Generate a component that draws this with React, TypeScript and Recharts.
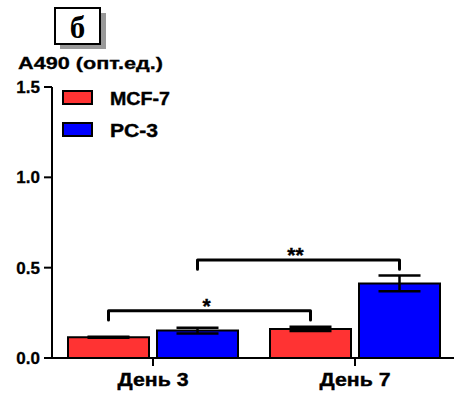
import React from 'react';
import { BarChart, Bar, XAxis, YAxis, ErrorBar, Legend } from 'recharts';

const categories = ['День 3', 'День 7'];
const mcf7 = [0.115, 0.161];
const mcf7Err = [0.003, 0.012];
const pc3 = [0.152, 0.413];
const pc3Err = [0.016, 0.044];
const yTicks = [0, 0.5, 1.0, 1.5];
const seriesNames = ['MCF-7', 'PC-3'];
const seriesColors = ['#FF3333', '#0000FF'];
const bracketLevels = [0.262, 0.542];
const bracketDrop = 0.051;
const bracketLabels = ['*', '**'];
const yLabel = 'A490 (опт.ед.)';
const panelLetter = 'б';

const data = categories.map((c, i) => ({
  day: c,
  mcf7: mcf7[i],
  mcf7Err: mcf7Err[i],
  pc3: pc3[i],
  pc3Err: pc3Err[i],
}));

const CHART_W = 456;
const CHART_H = 401;
const MARGIN = { top: 87, right: 0, bottom: 13, left: 8 };
const YAXIS_W = 44;
const XAXIS_H = 30;
const STEP = (CHART_W - MARGIN.left - YAXIS_W - MARGIN.right) / categories.length;
const FONT = '"Liberation Sans", Arial, sans-serif';

const makeBracket = (level: number, text: string) => (props: any) => {
  const { x, y, width, height, value, index } = props;
  if (index !== 0) return null;
  const v = Array.isArray(value) ? value[1] - value[0] : value;
  const base = Number(y) + Number(height);
  const ppu = Number(height) / Number(v);
  const yl = base - level * ppu;
  const yd = base - (level - bracketDrop) * ppu;
  const x0 = Number(x) + Number(width) / 2;
  const x1 = x0 + STEP;
  return (
    <g>
      <path
        d={`M${x0},${yd} L${x0},${yl} L${x1},${yl} L${x1},${yd}`}
        fill="none"
        stroke="#000"
        strokeWidth={3}
        strokeLinejoin="round"
        strokeLinecap="round"
      />
      <text
        x={(x0 + x1) / 2 - 3}
        y={yl + 2}
        textAnchor="middle"
        fontFamily={FONT}
        fontWeight="bold"
        fontSize={21}
        fill="#000"
        stroke="#000"
        strokeWidth={0.4}
      >
        {text}
      </text>
    </g>
  );
};

const YTick = (props: any) => {
  const { x, y, payload } = props;
  return (
    <text
      x={x}
      y={y}
      dy={6}
      textAnchor="end"
      fontFamily={FONT}
      fontWeight="bold"
      fontSize={17}
      fill="#000"
      stroke="#000"
      strokeWidth={0.3}
    >
      {Number(payload.value).toFixed(1)}
    </text>
  );
};

const XTick = (props: any) => {
  const { x, y, payload } = props;
  return (
    <text
      x={x}
      y={y}
      dy={18}
      textAnchor="middle"
      fontFamily={FONT}
      fontWeight="bold"
      fontSize={19}
      fill="#000"
      stroke="#000"
      strokeWidth={0.4}
      textLength={71}
      lengthAdjust="spacingAndGlyphs"
    >
      {payload.value}
    </text>
  );
};

const legendTextLen = [60, 48];

const LegendContent = (props: any) => {
  const payload = props.payload || [];
  return (
    <svg width={130} height={56}>
      {payload.map((p: any, i: number) => (
        <g key={i} transform={`translate(0, ${i * 32})`}>
          <rect x={1} y={4} width={29} height={13} fill={p.color} stroke="#000" strokeWidth={2} />
          <text
            x={48}
            y={17.5}
            fontFamily={FONT}
            fontWeight="bold"
            fontSize={18.5}
            fill="#000"
            stroke="#000"
            strokeWidth={0.4}
            textLength={legendTextLen[i]}
            lengthAdjust="spacingAndGlyphs"
          >
            {p.value}
          </text>
        </g>
      ))}
    </svg>
  );
};

export default function App() {
  return (
    <div style={{ position: 'absolute', left: 0, top: 0, width: 454, height: 401, overflow: 'hidden', background: '#fff' }}>
      <BarChart
        width={CHART_W}
        height={CHART_H}
        data={data}
        margin={MARGIN}
        barSize={81}
        barGap={8}
      >
        <XAxis
          dataKey="day"
          height={XAXIS_H}
          tickSize={8}
          tickMargin={2}
          axisLine={{ stroke: '#000', strokeWidth: 2 }}
          tickLine={{ stroke: '#000', strokeWidth: 2 }}
          tick={<XTick />}
        />
        <YAxis
          width={YAXIS_W}
          domain={[0, 1.5]}
          ticks={yTicks}
          tickSize={8}
          tickMargin={4}
          axisLine={{ stroke: '#000', strokeWidth: 2 }}
          tickLine={{ stroke: '#000', strokeWidth: 2 }}
          tick={<YTick />}
        />
        <Legend
          layout="vertical"
          align="center"
          verticalAlign="middle"
          wrapperStyle={{ top: 87, left: 62, width: 130, height: 56 }}
          content={<LegendContent />}
        />
        <Bar
          dataKey="mcf7"
          name={seriesNames[0]}
          fill={seriesColors[0]}
          stroke="#000"
          strokeWidth={2}
          isAnimationActive={false}
          label={makeBracket(bracketLevels[0], bracketLabels[0])}
        >
          <ErrorBar dataKey="mcf7Err" width={21} stroke="#000" strokeWidth={2.5} direction="y" />
        </Bar>
        <Bar
          dataKey="pc3"
          name={seriesNames[1]}
          fill={seriesColors[1]}
          stroke="#000"
          strokeWidth={2}
          isAnimationActive={false}
          label={makeBracket(bracketLevels[1], bracketLabels[1])}
        >
          <ErrorBar dataKey="pc3Err" width={21} stroke="#000" strokeWidth={2.5} direction="y" />
        </Bar>
      </BarChart>
      <svg width={454} height={80} style={{ position: 'absolute', left: 0, top: 0, pointerEvents: 'none' }}>
        <rect x={60} y={13} width={46} height={36} fill="#999" />
        <rect x={55} y={8} width={45} height={36} fill="#fff" stroke="#000" strokeWidth={2} />
        <text
          x={77.5}
          y={38}
          textAnchor="middle"
          fontFamily='"Liberation Serif", "Times New Roman", serif'
          fontWeight="bold"
          fontSize={31}
          fill="#000"
        >
          {panelLetter}
        </text>
        <text
          x={18}
          y={68.5}
          fontFamily={FONT}
          fontWeight="bold"
          fontSize={17}
          fill="#000"
          stroke="#000"
          strokeWidth={0.3}
          textLength={145}
          lengthAdjust="spacingAndGlyphs"
        >
          {yLabel}
        </text>
      </svg>
    </div>
  );
}
